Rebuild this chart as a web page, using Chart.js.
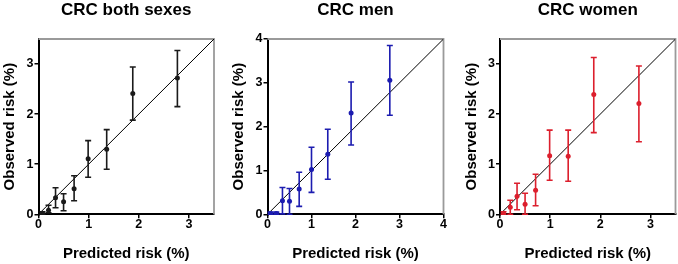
<!DOCTYPE html>
<html><head><meta charset="utf-8">
<script src="https://cdn.jsdelivr.net/npm/chart.js@4.4.0/dist/chart.umd.min.js"></script>
<style>
html,body{margin:0;padding:0;background:#fff;width:678px;height:264px;overflow:hidden}
.p{position:absolute;top:0;height:264px;width:226px}
canvas{display:block}
</style></head>
<body>
<div class="p" style="left:0px"><canvas id="c0" width="226" height="264"></canvas></div>
<div class="p" style="left:226px"><canvas id="c1" width="226" height="264"></canvas></div>
<div class="p" style="left:452px"><canvas id="c2" width="226" height="264"></canvas></div>
<script>
// ---- data ----
const titles = ["CRC both sexes", "CRC men", "CRC women"];
const xLabel = "Predicted risk (%)";
const yLabel = "Observed risk (%)";

const bothPred = [0.08, 0.20, 0.34, 0.50, 0.71, 0.99, 1.36, 1.88, 2.77];
const bothObs  = [0.02, 0.08, 0.33, 0.25, 0.51, 1.11, 1.30, 2.41, 2.72];
const bothLo   = [0.00, 0.03, 0.13, 0.07, 0.27, 0.74, 0.90, 1.88, 2.15];
const bothHi   = [0.05, 0.18, 0.53, 0.41, 0.77, 1.47, 1.69, 2.94, 3.27];

const menPred = [0.07, 0.20, 0.34, 0.50, 0.72, 1.00, 1.37, 1.90, 2.78];
const menObs  = [0.02, 0.02, 0.31, 0.30, 0.58, 1.02, 1.37, 2.31, 3.06];
const menLo   = [0.00, 0.00, 0.01, 0.00, 0.18, 0.50, 0.80, 1.58, 2.26];
const menHi   = [0.05, 0.05, 0.61, 0.59, 0.96, 1.53, 1.94, 3.02, 3.85];

const womenPred = [0.07, 0.205, 0.34, 0.50, 0.71, 0.99, 1.36, 1.87, 2.77];
const womenObs  = [0.02, 0.14, 0.36, 0.20, 0.48, 1.17, 1.16, 2.39, 2.21];
const womenLo   = [0.00, 0.00, 0.09, 0.00, 0.17, 0.68, 0.66, 1.63, 1.45];
const womenHi   = [0.05, 0.28, 0.62, 0.42, 0.80, 1.68, 1.68, 3.13, 2.96];

const axisMax = [3.5, 4, 3.5];
const tickStep = 1;

// ---- styling / layout ----
const panels = [
  {pred: bothPred, obs: bothObs, lo: bothLo, hi: bothHi, color: '#1a1a1a'},
  {pred: menPred, obs: menObs, lo: menLo, hi: menHi, color: '#1c1cb0'},
  {pred: womenPred, obs: womenObs, lo: womenLo, hi: womenHi, color: '#dc1f2d'}
];
const canvasLeft = [0, 226, 452];
const plotLeft = [38.5, 267.5, 500];
const plotRight = [214, 443.5, 675.5];
const plotTop = 39, plotBottom = 214.3;
const yAxisW = 37.5;
const FONT = "'Liberation Sans', Arial, Helvetica, sans-serif";

const errorBarPlugin = {
  id: 'errorBars',
  afterDatasetsDraw(chart) {
    const ctx = chart.ctx;
    const xs = chart.scales.x, ys = chart.scales.y;
    chart.data.datasets.forEach(ds => {
      if (!ds.errLo) return;
      ctx.save();
      ctx.strokeStyle = ds.borderColor;
      ctx.lineWidth = 1.6;
      ds.data.forEach((p, j) => {
        const px = xs.getPixelForValue(p.x);
        const y1 = ys.getPixelForValue(ds.errLo[j]);
        const y2 = ys.getPixelForValue(ds.errHi[j]);
        ctx.beginPath();
        ctx.moveTo(px, y1); ctx.lineTo(px, y2);
        ctx.moveTo(px - 3, y1); ctx.lineTo(px + 3, y1);
        ctx.moveTo(px - 3, y2); ctx.lineTo(px + 3, y2);
        ctx.stroke();
      });
      ctx.restore();
    });
  }
};

const framePlugin = {
  id: 'frame',
  beforeDatasetsDraw(chart) {
    const {ctx, chartArea: a} = chart;
    ctx.save();
    ctx.strokeStyle = '#9a9a9a';
    ctx.lineWidth = 1.8;
    ctx.beginPath();
    ctx.moveTo(a.left, a.top); ctx.lineTo(a.right, a.top); ctx.lineTo(a.right, a.bottom);
    ctx.stroke();
    ctx.restore();
  }
};

panels.forEach((pn, i) => {
  const padLeft = plotLeft[i] - yAxisW - canvasLeft[i];
  const padRight = canvasLeft[i] + 226 - plotRight[i];
  const mx = axisMax[i];
  new Chart(document.getElementById('c' + i), {
    type: 'scatter',
    data: {
      datasets: [
        {
          data: pn.pred.map((x, j) => ({x: x, y: pn.obs[j]})),
          errLo: pn.lo, errHi: pn.hi,
          borderColor: pn.color, backgroundColor: pn.color,
          pointRadius: 2.5, pointBorderWidth: 0, pointHoverRadius: 2.5
        },
        {
          type: 'line',
          data: [{x: 0, y: 0}, {x: mx, y: mx}],
          borderColor: '#000', borderWidth: 1, pointRadius: 0, fill: false, showLine: true
        }
      ]
    },
    options: {
      responsive: false, animation: false, devicePixelRatio: 1,
      layout: {padding: {left: padLeft, right: padRight, top: 0, bottom: 0}},
      plugins: {
        legend: {display: false}, tooltip: {enabled: false},
        title: {
          display: true, text: titles[i], color: '#000', fullSize: false,
          font: {family: FONT, size: 17, weight: 'bold', lineHeight: 1.2},
          padding: {top: 0.5, bottom: plotTop - 20.9}
        }
      },
      scales: {
        x: {
          type: 'linear', min: 0, max: mx,
          afterFit(s) { s.height = 264 - plotBottom; },
          border: {display: true, color: '#000', width: 2},
          grid: {drawOnChartArea: false, drawTicks: true, tickLength: 4, color: '#000', lineWidth: 1.5},
          ticks: {stepSize: tickStep, includeBounds: false, color: '#000', padding: 0,
                  font: {family: FONT, size: 12.5, weight: 'bold', lineHeight: 1}},
          title: {display: true, text: xLabel, color: '#000', padding: {top: 0, bottom: 1},
                  font: {family: FONT, size: 15, weight: 'bold', lineHeight: 1.2}}
        },
        y: {
          type: 'linear', min: 0, max: mx,
          afterFit(s) { s.width = yAxisW; },
          border: {display: true, color: '#000', width: 2},
          grid: {drawOnChartArea: false, drawTicks: true, tickLength: 4, color: '#000', lineWidth: 1.5},
          ticks: {stepSize: tickStep, includeBounds: false, color: '#000', padding: 1,
                  font: {family: FONT, size: 12.5, weight: 'bold', lineHeight: 1}},
          title: {display: true, text: yLabel, color: '#000', padding: {top: 0, bottom: 0},
                  font: {family: FONT, size: 15, weight: 'bold', lineHeight: 1.2}}
        }
      }
    },
    plugins: [framePlugin, errorBarPlugin]
  });
});
</script>
</body></html>
